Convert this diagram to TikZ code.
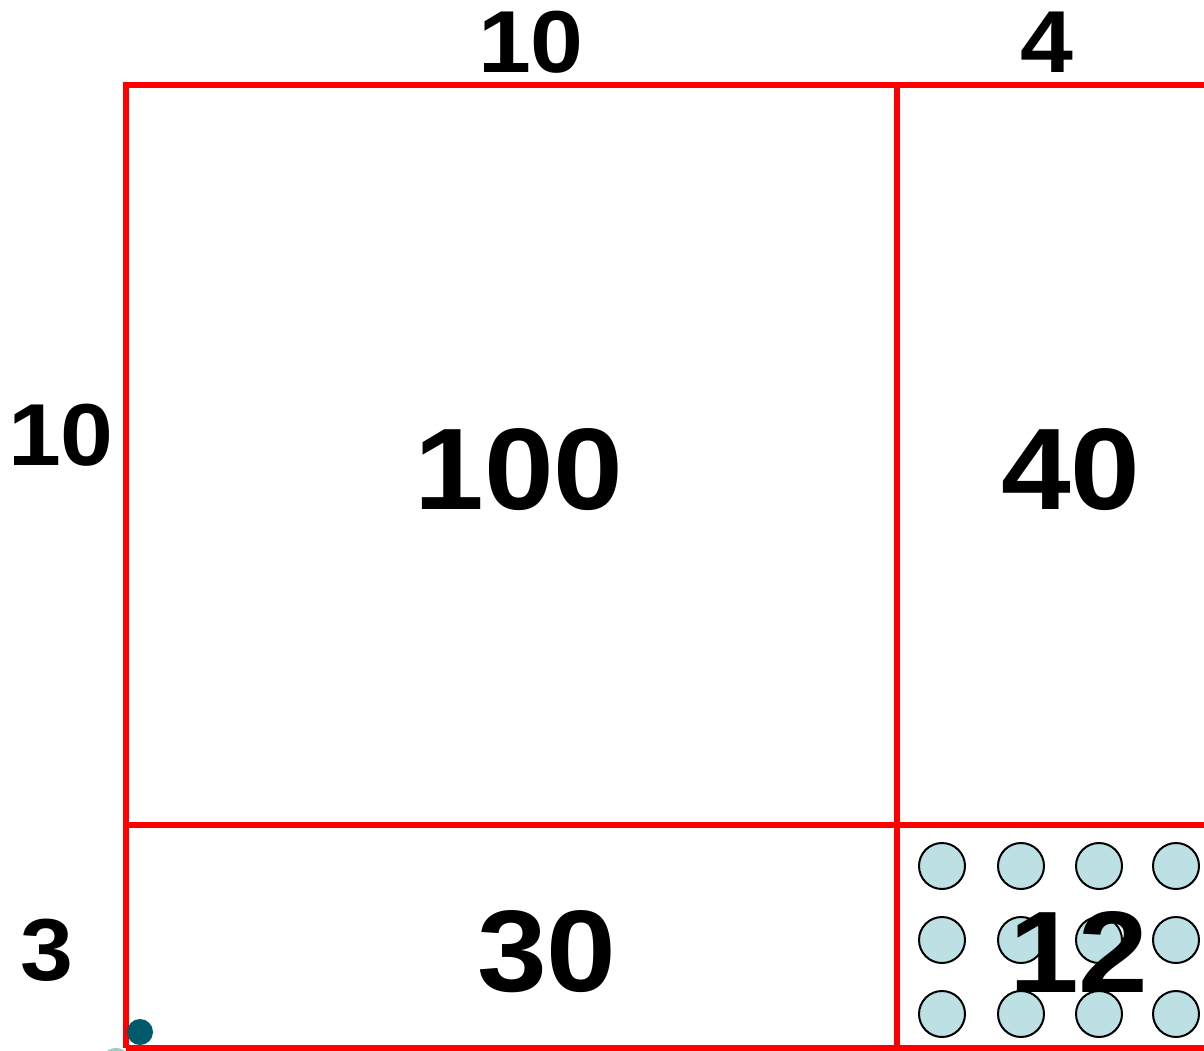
\documentclass[tikz,border=0pt]{standalone}
\usepackage{fontspec}
\setmainfont{Liberation Sans}
\newfontfamily\numfont[FakeStretch=1.08]{Liberation Sans}
\definecolor{gridred}{RGB}{255,0,0}
\definecolor{dotfill}{RGB}{188,224,227}
\definecolor{darkteal}{RGB}{0,90,105}
\definecolor{paleteal}{RGB}{160,205,195}
\tikzset{
  gridline/.style={draw=gridred, line width=5.5pt},
  dot/.style={circle, draw=black, line width=2pt, fill=dotfill, minimum size=46pt, inner sep=0pt},
  bignum/.style={font=\numfont\fontsize{116}{116}\selectfont\bfseries, inner sep=0pt},
  sidenum/.style={font=\numfont\fontsize{88}{88}\selectfont\bfseries, inner sep=0pt}
}
\begin{document}
\begin{tikzpicture}[x=1pt,y=-1pt]
\useasboundingbox (0,0) rectangle (1204,1051);
\clip (0,0) rectangle (1204,1051);
% grid
\draw[gridline] (126,1048) -- (126,85) -- (1230,85);
\draw[gridline] (126,825) -- (1230,825);
\draw[gridline] (897,85) -- (897,1048);
\draw[gridline] (126,1048) -- (1230,1048);
% dots
\foreach \c/\x in {1/942,2/1021,3/1099,4/1176}{
  \foreach \r/\y in {1/866,2/940,3/1014}{
    \node[dot] (d\c\r) at (\x,\y) {};
  }
}
% corner marks
\fill[paleteal] (116,1063) circle (15);
\fill[darkteal] (140,1032) circle (13);
% labels
\node[bignum] (n100) at (519,470) {100};
\node[bignum] (n40) at (1071,470) {40};
\node[bignum] (n30) at (547,952) {30};
\node[bignum] (n12) at (1079,952) {12};
\node[sidenum] (top10) at (531,42) {10};
\node[sidenum] (top4) at (1047,42) {4};
\node[sidenum] (left10) at (61,435) {10};
\node[sidenum] (left3) at (47,950) {3};
\end{tikzpicture}
\end{document}
